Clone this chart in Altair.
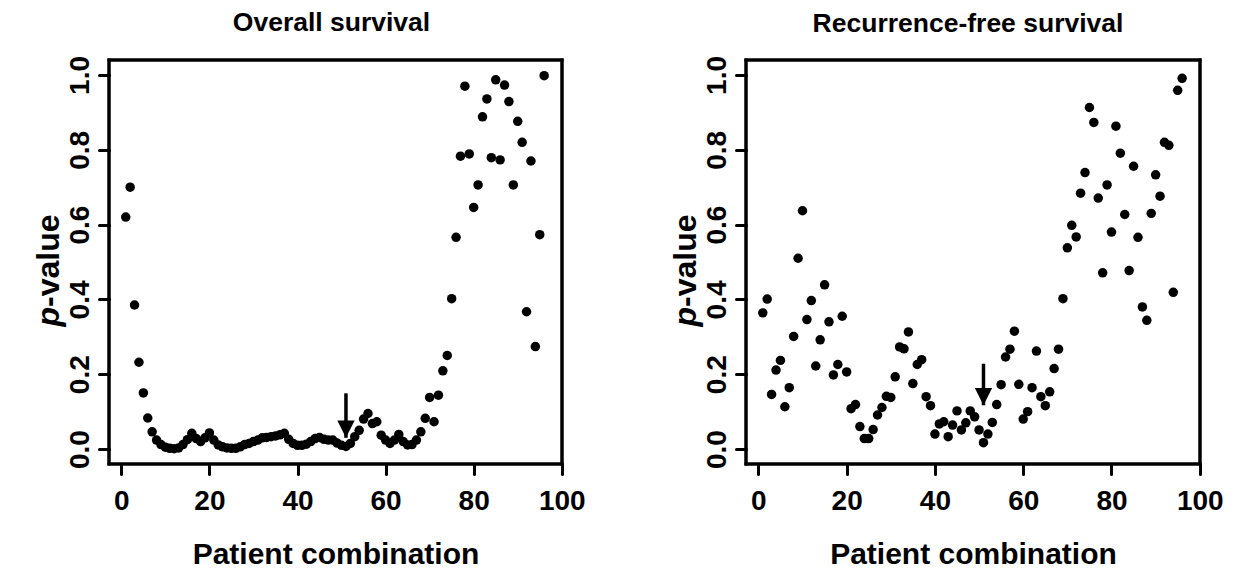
import altair as alt
import pandas as pd

# ---- data ----
combo = list(range(1, 97))

os_p = [0.62, 0.70, 0.385, 0.232, 0.150, 0.083, 0.046, 0.024, 0.012, 0.005,
        0.002, 0.001, 0.003, 0.012, 0.025, 0.042, 0.028, 0.020, 0.030, 0.043,
        0.024, 0.011, 0.006, 0.003, 0.002, 0.002, 0.006, 0.012, 0.015, 0.020,
        0.024, 0.030, 0.031, 0.033, 0.035, 0.038, 0.042, 0.026, 0.015, 0.010,
        0.010, 0.013, 0.020, 0.028, 0.031, 0.026, 0.024, 0.024, 0.016, 0.010,
        0.007, 0.015, 0.033, 0.050, 0.080, 0.095, 0.068, 0.073, 0.037, 0.024,
        0.015, 0.024, 0.039, 0.020, 0.011, 0.012, 0.024, 0.046, 0.082, 0.138,
        0.073, 0.144, 0.209, 0.250, 0.402, 0.566, 0.783, 0.970, 0.789, 0.646,
        0.706, 0.888, 0.936, 0.779, 0.987, 0.773, 0.973, 0.929, 0.706, 0.876,
        0.820, 0.367, 0.770, 0.274, 0.573, 0.998]

rfs_p = [0.364, 0.401, 0.146, 0.211, 0.237, 0.113, 0.164, 0.301, 0.510, 0.637,
         0.346, 0.397, 0.222, 0.292, 0.439, 0.340, 0.198, 0.226, 0.355, 0.206,
         0.108, 0.119, 0.060, 0.028, 0.028, 0.052, 0.091, 0.111, 0.141, 0.138,
         0.193, 0.273, 0.268, 0.313, 0.175, 0.226, 0.239, 0.140, 0.116, 0.040,
         0.067, 0.073, 0.033, 0.064, 0.102, 0.051, 0.070, 0.102, 0.086, 0.051,
         0.017, 0.040, 0.071, 0.119, 0.172, 0.246, 0.267, 0.315, 0.173, 0.080,
         0.100, 0.164, 0.262, 0.140, 0.116, 0.153, 0.215, 0.267, 0.402, 0.538,
         0.598, 0.567, 0.684, 0.739, 0.913, 0.873, 0.671, 0.471, 0.706, 0.580,
         0.863, 0.791, 0.627, 0.477, 0.756, 0.566, 0.380, 0.344, 0.630, 0.733,
         0.676, 0.820, 0.812, 0.419, 0.959, 0.991]

titles = ["Overall survival", "Recurrence-free survival"]
x_title = "Patient combination"
x_ticks = [0, 20, 40, 60, 80, 100]
y_ticks = [0.0, 0.2, 0.4, 0.6, 0.8, 1.0]

arrow_x = [51, 51]
arrow_top = [0.149, 0.228]
arrow_tip = [0.030, 0.117]

FONT = "Liberation Sans"
X_DOMAIN = [-2.8, 100.05]
Y_DOMAIN = [-0.04, 1.04]
HEAD = "M-1,-2L1,-2L0,0Z"


def panel(values, title, ax_top, ax_tip, ax_x, w, h, title_dx, title_dy):
    df = pd.DataFrame({"combo": combo, "p": values})
    xs = alt.Scale(domain=X_DOMAIN, nice=False, zero=False)
    ys = alt.Scale(domain=Y_DOMAIN, nice=False, zero=False)
    xax = alt.Axis(values=x_ticks, title=x_title, grid=False, domain=False,
                   tickSize=10, tickWidth=3, tickColor="black", tickCap="round",
                   labelFont=FONT, labelFontSize=28, labelFontWeight="bold",
                   labelColor="black", labelPadding=13, labelFlush=False,
                   titleFont=FONT, titleFontSize=30, titleFontWeight="bold",
                   titleColor="black", titlePadding=24)
    yax = alt.Axis(values=y_ticks, format=".1f", title=None, grid=False,
                   domain=False, tickSize=10, tickWidth=3, tickColor="black",
                   tickCap="round", labelAngle=270, labelAlign="center",
                   labelBaseline="alphabetic", labelFont=FONT, labelFontSize=28,
                   labelFontWeight="bold", labelColor="black", labelPadding=11,
                   labelFlush=False)
    pts = alt.Chart(df).mark_circle(size=90, color="black", opacity=1).encode(
        x=alt.X("combo:Q", scale=xs, axis=xax),
        y=alt.Y("p:Q", scale=ys, axis=yax),
    )
    # plot frame (box): four thin filled bars straddling the scale limits
    dx = 1.5 * (X_DOMAIN[1] - X_DOMAIN[0]) / w
    dy = 1.5 * (Y_DOMAIN[1] - Y_DOMAIN[0]) / h
    bdf = pd.DataFrame({
        "x0": [X_DOMAIN[0] - dx, X_DOMAIN[1] - dx, X_DOMAIN[0] - dx, X_DOMAIN[0] - dx],
        "x1": [X_DOMAIN[0] + dx, X_DOMAIN[1] + dx, X_DOMAIN[1] + dx, X_DOMAIN[1] + dx],
        "y0": [Y_DOMAIN[0] - dy, Y_DOMAIN[0] - dy, Y_DOMAIN[0] - dy, Y_DOMAIN[1] - dy],
        "y1": [Y_DOMAIN[1] + dy, Y_DOMAIN[1] + dy, Y_DOMAIN[0] + dy, Y_DOMAIN[1] + dy],
    })
    frame = alt.Chart(bdf).mark_rect(color="black", opacity=1).encode(
        x=alt.X("x0:Q", scale=xs), x2="x1:Q",
        y=alt.Y("y0:Q", scale=ys), y2="y1:Q")
    adf = pd.DataFrame({"x": [ax_x], "top": [ax_top], "tip": [ax_tip]})
    shaft = alt.Chart(adf).mark_rule(color="black", strokeWidth=3.5).encode(
        x=alt.X("x:Q", scale=xs), y=alt.Y("top:Q", scale=ys), y2="tip:Q")
    head = alt.Chart(adf).mark_point(shape=HEAD, size=300, filled=True,
                                     color="black", opacity=1).encode(
        x=alt.X("x:Q", scale=xs), y=alt.Y("tip:Q", scale=ys))
    tdf = pd.DataFrame({"t": [title]})
    ttl = alt.Chart(tdf).mark_text(font=FONT, fontSize=26.5, fontWeight="bold",
                                   color="black", baseline="middle",
                                   align="center").encode(
        text="t:N", x=alt.value(w / 2 + title_dx), y=alt.value(title_dy))
    pdf = pd.DataFrame({"a": ["p"], "b": ["-value"]})
    yt1 = alt.Chart(pdf).mark_text(font=FONT, fontSize=32, fontWeight="bold",
                                   fontStyle="italic", color="black", angle=270,
                                   align="right", baseline="middle").encode(
        text="a:N", x=alt.value(-60), y=alt.value(247))
    yt2 = alt.Chart(pdf).mark_text(font=FONT, fontSize=32, fontWeight="bold",
                                   color="black", angle=270, align="left",
                                   baseline="middle").encode(
        text="b:N", x=alt.value(-60), y=alt.value(247))
    return alt.layer(pts, frame, shaft, head, ttl, yt1, yt2).properties(
        width=w, height=h)


left = panel(os_p, titles[0], arrow_top[0], arrow_tip[0], arrow_x[0],
             453, 404, -4, -37.5)
right = panel(rfs_p, titles[1], arrow_top[1], arrow_tip[1], arrow_x[1],
              454, 404, -5, -36)

chart = alt.hconcat(left, right, spacing=81).properties(
    padding={"left": 23, "top": 0, "right": 5, "bottom": 5},
    background="white",
).configure_view(stroke="black", strokeWidth=3)

chart.save("out.html", embed_options={"renderer": "svg", "actions": False})
